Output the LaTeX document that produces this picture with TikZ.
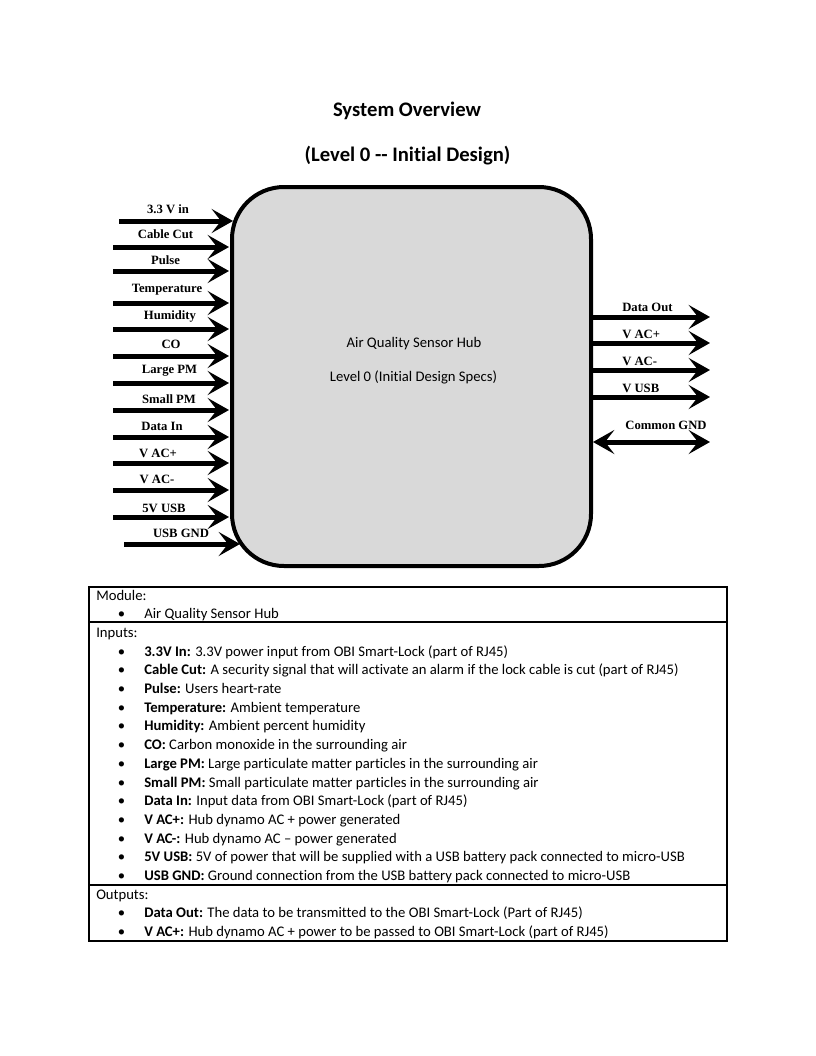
\documentclass[tikz,border=0pt]{standalone}
\usepackage{fontspec}
\setmainfont{Carlito}[Ligatures=NoCommon]
\newfontfamily\serifbold{Liberation Serif}
\usetikzlibrary{arrows.meta}
\definecolor{hubgray}{HTML}{D9D9D9}

\begin{document}
\begin{tikzpicture}[%
  x=0.75pt, y=-0.75pt,
  >={Stealth[length=16pt,width=18pt,inset=7pt]},
  sig/.style = {->, line width=3.75pt},
  gnd/.style = {<->, line width=3.75pt},
  lbl/.style = {font=\serifbold\bfseries\fontsize{9.5}{11}\selectfont, inner sep=0pt, anchor=base},
  hub/.style = {draw, line width=3pt, fill=hubgray, rounded corners=39pt,
    minimum width=269.25pt, minimum height=284.25pt, inner sep=0pt},
  title/.style = {font=\bfseries\fontsize{15.5}{18}\selectfont, inner sep=0pt, anchor=base},
  body/.style = {font=\fontsize{11}{13}\selectfont, inner sep=0pt, anchor=base west},
  tbl/.style = {line width=1.3pt},
]
  \fill[white] (0,0) rectangle (816,1056);
  \useasboundingbox (0,0) rectangle (816,1056);

  \node[title] (ttl) at (407,116) {System Overview};
  \node[title] (lvl) at (407.5,161) {(Level 0 -{}- Initial Design)};

  \node[hub] (hub) at (411.5,376.5) {};
  \node[body, anchor=base] (hubname) at (414,347) {Air Quality Sensor Hub};
  \node[body, anchor=base] (hublevel) at (413.5,381.5) {Level 0 (Initial Design Specs)};

  \foreach \y/\xs/\xe/\lx/\ly/\txt [count=\i] in {
    221/119/233/168/213/3.3 V in,
    247/113/229/165.5/238/Cable Cut,
    271/113/229/165.5/264/Pulse,
    303/113/229/167/292/Temperature,
    329/113/229/170/319/Humidity,
    356/113/229/171/348/CO,
    383/113/229/169.5/373/Large PM,
    410/113/229/169/403/Small PM,
    437/113/229/162/430/Data In,
    463/113/229/158/457/V AC+,
    490/113/229/157/483/V AC-,
    517/113/229/164/512/5V USB,
    544/124/240/181/537/USB GND}
  {
    \coordinate (in\i) at (\xs,\y);
    \coordinate (hubin\i) at (\xe,\y);
    \draw[sig] (in\i) -- (hubin\i);
    \node[lbl] (inlbl\i) at (\lx,\ly) {\txt};
  }

  \foreach \y/\ly/\txt [count=\i] in {
    317/311/Data Out,
    343/338/V AC+,
    370/365/V AC-,
    397/392/V USB}
  {
    \coordinate (hubout\i) at (592,\y);
    \coordinate (out\i) at (710,\y);
    \draw[sig] (hubout\i) -- (out\i);
    \node[lbl, anchor=base west] (outlbl\i) at (622,\ly) {\txt};
  }
  \coordinate (hubgnd) at (593,442);
  \coordinate (gnd) at (710,442);
  \draw[gnd] (hubgnd) -- (gnd);
  \node[lbl] (gndlbl) at (666,429) {Common GND};

  \draw[tbl] (89,587) rectangle (727,941);
  \draw[tbl] (89,622) -- (727,622);
  \draw[tbl] (89,885) -- (727,885);

  \foreach \r/\txt in {0/Module:, 2/Inputs:, 16/Outputs:}
    \node[body] (head\r) at (96,600+18.7*\r) {\txt};

  \foreach \r/\txt in {
    1/{Air Quality Sensor Hub},
    3/{\textbf{3.3V In:} 3.3V power input from OBI Smart-Lock (part of RJ45)},
    4/{\textbf{Cable Cut:} A security signal that will activate an alarm if the lock cable is cut (part of RJ45)},
    5/{\textbf{Pulse:} Users heart-rate},
    6/{\textbf{Temperature:} Ambient temperature},
    7/{\textbf{Humidity:} Ambient percent humidity},
    8/{\textbf{CO:} Carbon monoxide in the surrounding air},
    9/{\textbf{Large PM:} Large particulate matter particles in the surrounding air},
    10/{\textbf{Small PM:} Small particulate matter particles in the surrounding air},
    11/{\textbf{Data In:} Input data from OBI Smart-Lock (part of RJ45)},
    12/{\textbf{V AC+:} Hub dynamo AC + power generated},
    13/{\textbf{V AC-:} Hub dynamo AC – power generated},
    14/{\textbf{5V USB:} 5V of power that will be supplied with a USB battery pack connected to micro-USB},
    15/{\textbf{USB GND:} Ground connection from the USB battery pack connected to micro-USB},
    17/{\textbf{Data Out:} The data to be transmitted to the OBI Smart-Lock (Part of RJ45)},
    18/{\textbf{V AC+:} Hub dynamo AC + power to be passed to OBI Smart-Lock (part of RJ45)}}
  {
    \node[body, anchor=base] (dot\r) at (121.5,600+18.7*\r) {\textbullet};
    \node[body] (item\r) at (144,600+18.7*\r) {\txt};
  }
\end{tikzpicture}
\end{document}
